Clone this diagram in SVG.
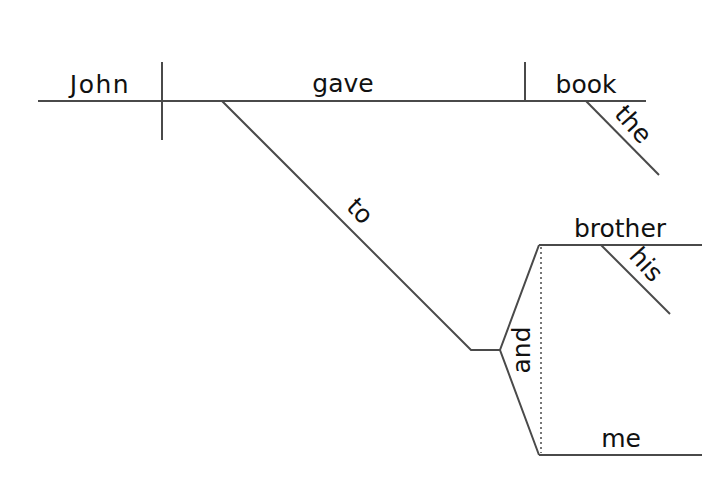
<svg xmlns="http://www.w3.org/2000/svg" width="722" height="480" viewBox="0 0 722 480">
<style>
.ln{stroke:#4a4a4a;stroke-width:2;fill:none}
.dot{stroke:#4a4a4a;stroke-width:1.5;fill:none;stroke-dasharray:2 3}
.w{font-family:"DejaVu Sans","Liberation Sans",sans-serif;font-size:25px;fill:#111;text-anchor:middle}
</style>
<rect width="722" height="480" fill="#fff"/>
<g id="connectors">
<line class="ln" x1="38" y1="101" x2="646" y2="101"/>
<line class="ln" x1="162" y1="62" x2="162" y2="140"/>
<line class="ln" x1="525" y1="62" x2="525" y2="101"/>
<line class="ln" x1="586" y1="101" x2="659" y2="175"/>
<polyline class="ln" points="222,101 471,350 500,350"/>
<polyline class="ln" points="539,245 500,350 539,455"/>
<line class="ln" x1="539" y1="245" x2="702" y2="245"/>
<line class="ln" x1="539" y1="455" x2="702" y2="455"/>
<line class="dot" x1="541" y1="247" x2="541" y2="453"/>
<line class="ln" x1="601" y1="245" x2="670" y2="314"/>
</g>
<g id="john"><text class="w" x="100" y="93" letter-spacing="1.5">John</text></g>
<g id="gave"><text class="w" x="343" y="92">gave</text></g>
<g id="book"><text class="w" x="586" y="93">book</text></g>
<g id="the"><text class="w" transform="translate(627,130) rotate(48)" x="0" y="0">the</text></g>
<g id="to"><text class="w" transform="translate(354,217) rotate(45)" x="0" y="0">to</text></g>
<g id="and"><text class="w" transform="translate(530,350) rotate(-90)" x="0" y="0">and</text></g>
<g id="brother"><text class="w" x="620" y="237">brother</text></g>
<g id="his"><text class="w" transform="translate(640,270) rotate(48)" x="0" y="0">his</text></g>
<g id="me"><text class="w" x="621" y="447">me</text></g>
</svg>
